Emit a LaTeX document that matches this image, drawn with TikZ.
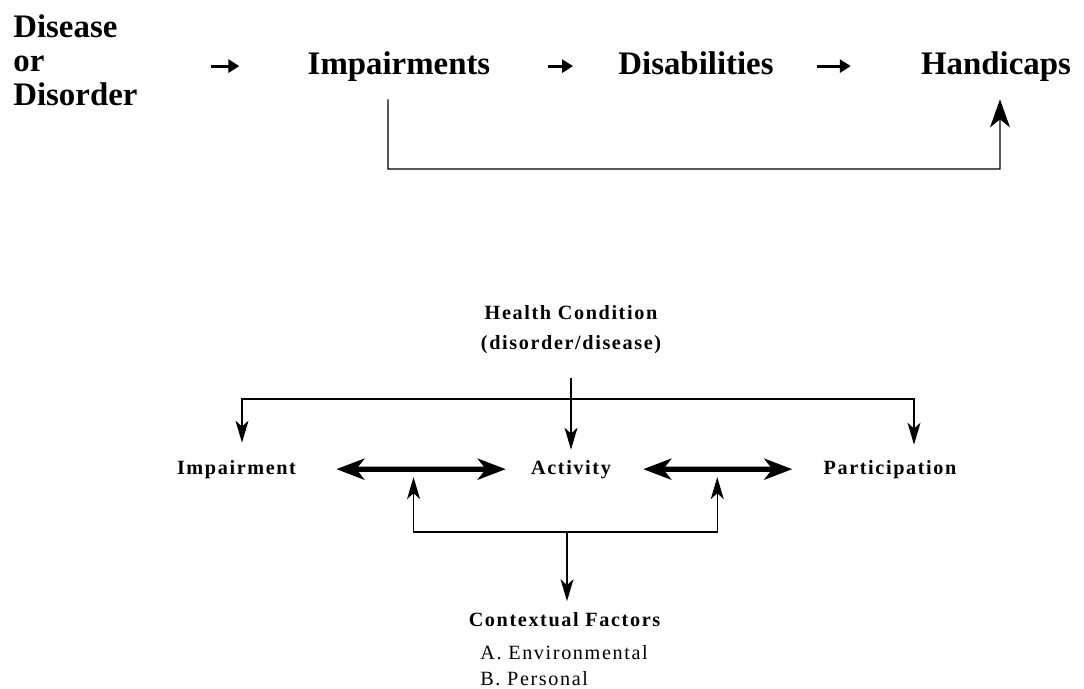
\documentclass[tikz,border=0pt]{standalone}
\usepackage{fontspec}
\setmainfont{Liberation Serif}
\newfontfamily\icffont[LetterSpace=8]{Liberation Serif}
\usetikzlibrary{arrows.meta,calc}

\begin{document}
\begin{tikzpicture}[
  oldlabel/.style={font=\fontsize{18.7}{19.3}\selectfont\bfseries, inner sep=0pt},
  newlabel/.style={font=\icffont\fontsize{11.5}{17}\selectfont\bfseries, inner sep=0pt},
  listlabel/.style={font=\icffont\fontsize{11.5}{15}\selectfont, inner sep=0pt},
  conn/.style={line width=0.7pt},
  oldarrow/.style={line width=1.8pt, -{Triangle[length=0.22cm,width=0.26cm]}},
  bighead/.style={-{Stealth[length=0.56cm,width=0.4cm,inset=0.16cm]}},
  downhead/.style={-{Stealth[length=0.44cm,width=0.26cm,inset=0.12cm]}},
  twoheads/.style={{Stealth[length=0.44cm,width=0.26cm,inset=0.12cm]}-{Stealth[length=0.44cm,width=0.26cm,inset=0.12cm]}},
  relarrow/.style={line width=3pt, {Stealth[length=0.56cm,width=0.42cm,inset=0.16cm]}-{Stealth[length=0.56cm,width=0.42cm,inset=0.16cm]}}
]
\useasboundingbox (0,0) rectangle (21.68,-13.76);

% ICIDH model
\node[oldlabel, align=left, anchor=west] (disease) at (0.26,-1.20) {Disease\\or\\Disorder};
\node[oldlabel, anchor=base] (imp) at (7.98,-1.48) {Impairments};
\node[oldlabel, anchor=base] (dis) at (13.92,-1.48) {Disabilities};
\node[oldlabel, anchor=base] (hand) at (19.92,-1.48) {Handicaps};
\draw[oldarrow, shorten <=1.46cm, shorten >=1.36cm] (disease.east |- imp.west) -- (imp.west);
\draw[oldarrow, shorten <=1.14cm, shorten >=0.9cm] (imp.east) -- (imp.east -| dis.west);
\draw[oldarrow, shorten <=0.86cm, shorten >=1.4cm] (hand.west -| dis.east) -- (hand.west);
\coordinate (skip) at (7.76,-3.38);
\draw[conn, bighead] ($(imp.south)+(-0.22,-0.36)$) -- (skip) -| ($(hand.south)+(0.08,-0.36)$);

% ICIDH-2 model
\node[newlabel, align=center] (health) at (11.42,-6.59) {Health Condition\\(disorder/disease)};
\node[newlabel, anchor=base] (imp2) at (4.73,-9.48) {Impairment};
\node[newlabel, anchor=base] (act) at (11.42,-9.48) {Activity};
\node[newlabel, anchor=base] (part) at (17.80,-9.48) {Participation};
\node[newlabel, anchor=base] (ctx) at (11.29,-12.53) {Contextual Factors};
\node[listlabel, align=left, anchor=north west] (factors) at (9.60,-12.90) {A. Environmental\\B. Personal};

\coordinate (hbar) at (11.42,-7.98);
\draw[conn, downhead, shorten >=0.2cm] ($(health.south)+(0,-0.48)$) -- (act.north);
\draw[conn, twoheads] ($(imp2.north)+(0.11,0.34)$) |- (hbar) -| ($(part.north)+(0.48,0.30)$);

\draw[relarrow, shorten <=0.8cm, shorten >=0.5cm] (imp2.east) -- coordinate[pos=0.5] (rel1) (act.west);
\draw[relarrow, shorten <=0.64cm, shorten >=0.62cm] (act.east) -- coordinate[pos=0.5] (rel2) (part.west);

\coordinate (cbar) at (11.34,-10.64);
\draw[conn, twoheads] ($(rel1)+(0,-0.16)$) |- (cbar) -| ($(rel2)+(0,-0.16)$);
\draw[conn, downhead, shorten >=0.22cm] (cbar) -- (cbar |- ctx.north);
\end{tikzpicture}
\end{document}
